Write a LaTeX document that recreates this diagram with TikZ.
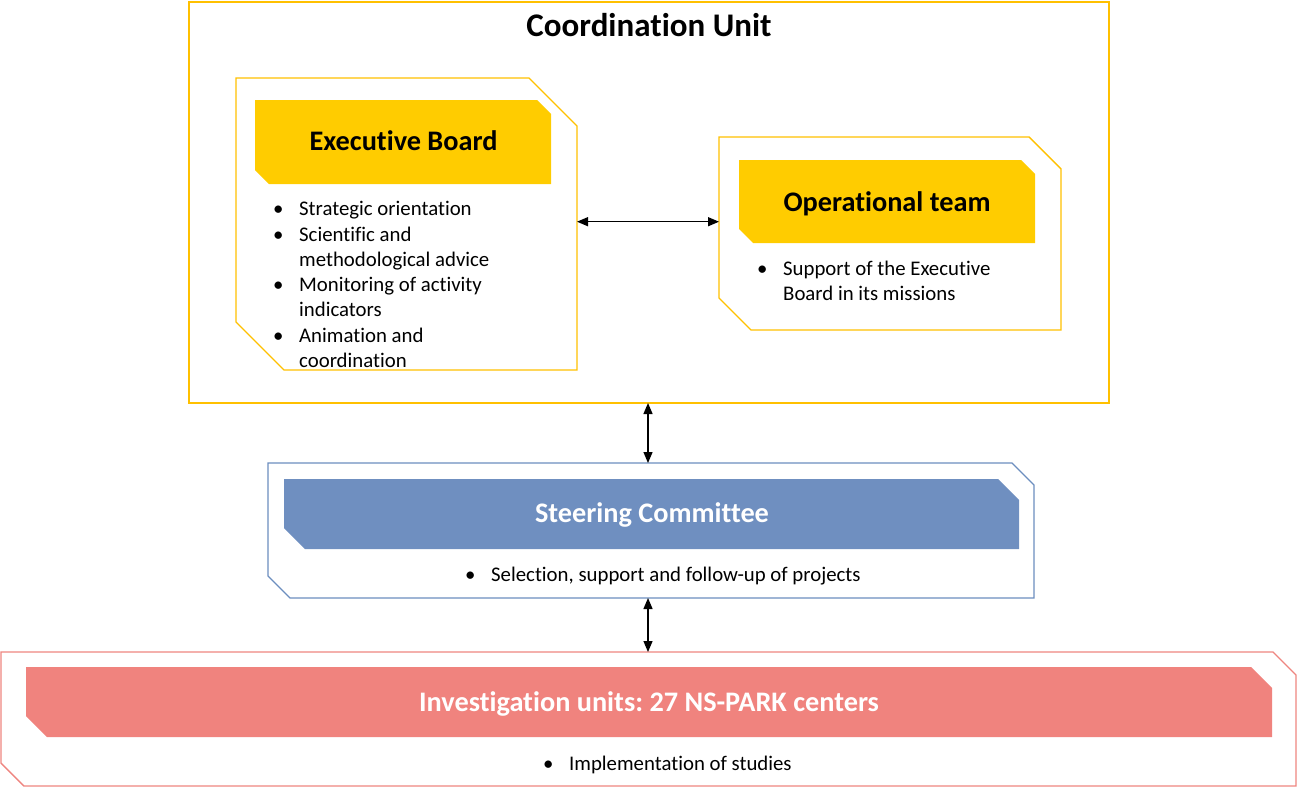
\documentclass[tikz,border=0pt]{standalone}
\usepackage{fontspec}
\setmainfont[Ligatures={NoCommon,NoContextual}]{Carlito}
\frenchspacing
\usetikzlibrary{arrows.meta,calc}
\definecolor{yline}{HTML}{FFC000}
\definecolor{yfill}{HTML}{FFCC00}
\definecolor{bline}{HTML}{6C8EBF}
\definecolor{bfill}{HTML}{6F8FC0}
\definecolor{rline}{HTML}{EE8580}
\definecolor{rfill}{HTML}{F0837E}
\newcommand\chamfbox[3]{%
  \path[#3] (#1.north west) -- ([xshift=-#2pt]#1.north east) -- ([yshift=-#2pt]#1.north east)
    -- (#1.south east) -- ([xshift=#2pt]#1.south west) -- ([yshift=#2pt]#1.south west) -- cycle;}
\newcommand\bul{\makebox[26pt][l]{\textbullet}}
\newcommand\ind{\hspace*{26pt}}
\tikzset{
  area/.style={rectangle, inner sep=0pt, outer sep=0pt},
  headtxt/.style={anchor=base, inner sep=0pt, font=\fontsize{28.3}{32}\selectfont\bfseries},
  bodytxt/.style={anchor=base west, inner sep=0pt, font=\fontsize{20.8}{25}\selectfont},
  arr/.style={line width=1.3pt, {Triangle[length=11pt,width=9pt]}-{Triangle[length=11pt,width=9pt]}},
}
\begin{document}
\begin{tikzpicture}[x=1pt,y=-1pt]
\useasboundingbox (0,0) rectangle (1297,788);
% invisible frames
\node[area, minimum width=920pt, minimum height=401pt] (cu) at (649,202.5) {};
\node[area, minimum width=341pt, minimum height=292pt] (ebo) at (406.5,224) {};
\node[area, minimum width=296pt, minimum height=84pt] (ebh) at (403,142) {};
\node[area, minimum width=342pt, minimum height=193pt] (oto) at (890,233.5) {};
\node[area, minimum width=296pt, minimum height=83pt] (oth) at (887,201.5) {};
\node[area, minimum width=766pt, minimum height=135pt] (sco) at (651,530.5) {};
\node[area, minimum width=735pt, minimum height=70pt] (sch) at (651.5,514) {};
\node[area, minimum width=1295pt, minimum height=134pt] (ivo) at (648.5,719) {};
\node[area, minimum width=1246pt, minimum height=70pt] (ivh) at (649,702) {};
% shapes
\draw[yline, line width=1.4pt] (cu.north west) rectangle (cu.south east);
\chamfbox{ebo}{48}{draw=yline, line width=1.4pt}
\chamfbox{ebh}{14}{fill=yfill}
\chamfbox{oto}{32}{draw=yline, line width=1.4pt}
\chamfbox{oth}{14}{fill=yfill}
\chamfbox{sco}{22}{draw=bline, line width=1.4pt}
\chamfbox{sch}{21}{fill=bfill}
\chamfbox{ivo}{23}{draw=rline, line width=1.4pt}
\chamfbox{ivh}{21}{fill=rfill}
% titles
\node[headtxt, font=\fontsize{33}{37}\selectfont\bfseries] (cut) at (649,36.7) {Coordination Unit};
\node[headtxt] (ebt) at (403.5,150.7) {Executive Board};
\node[headtxt] (ott) at (887,211) {Operational team};
\node[headtxt, text=white] (sct) at (652,522.7) {Steering Committee};
\node[headtxt, text=white] (ivt) at (649,711.7) {Investigation units: 27 NS-PARK centers};
% bullet texts
\node[bodytxt] (eb1) at (273,215.7) {\bul Strategic orientation};
\node[bodytxt] (eb2) at (273,241) {\bul Scientific and};
\node[bodytxt] (eb3) at (273,266.3) {\ind methodological advice};
\node[bodytxt] (eb4) at (273,291.6) {\bul Monitoring of activity};
\node[bodytxt] (eb5) at (273,316.9) {\ind indicators};
\node[bodytxt] (eb6) at (273,342.2) {\bul Animation and};
\node[bodytxt] (eb7) at (273,367.5) {\ind coordination};
\node[bodytxt] (ot1) at (757,275.7) {\bul Support of the Executive};
\node[bodytxt] (ot2) at (757,300.8) {\ind Board in its missions};
\node[bodytxt] (sc1) at (465,581) {\bul Selection, support and follow-up of projects};
\node[bodytxt] (iv1) at (543,770) {\bul Implementation of studies};
% connectors
\coordinate (h1) at ([yshift=2.3pt]ebo.east);
\draw[arr] (h1) -- (h1 -| oto.west);
\coordinate (v1) at ([xshift=-1pt]cu.south);
\draw[arr] (v1) -- (v1 |- sco.north);
\coordinate (v2) at (v1 |- sco.south);
\draw[arr] (v2) -- (v2 |- ivo.north);
\end{tikzpicture}
\end{document}
